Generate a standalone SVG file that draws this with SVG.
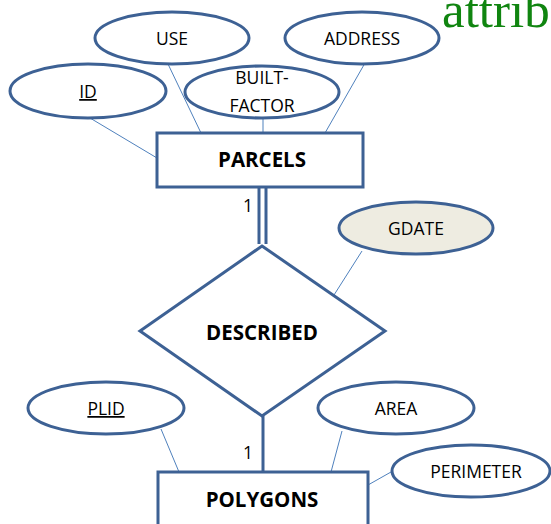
<svg xmlns="http://www.w3.org/2000/svg" width="551" height="524" viewBox="0 0 551 524">
<style>
.ell{fill:#ffffff;stroke:#3d6194;stroke-width:3}
.ent{fill:#ffffff;stroke:#3d6194;stroke-width:3}
.t{font-family:"Open Sans","Noto Sans",sans-serif;font-size:17.5px;fill:#000;text-anchor:middle}
.b{font-family:"Open Sans","Noto Sans",sans-serif;font-size:20.5px;font-weight:bold;fill:#000;text-anchor:middle}
.c{stroke:#4f81bd;stroke-width:1;fill:none}
.k{stroke:#3d6194;stroke-width:3;fill:none}
</style>
<rect width="551" height="524" fill="#ffffff"/>
<text x="442" y="27" font-family="'Liberation Serif',serif" font-size="51" fill="#108510">attrib</text>
<g id="connectors">
<line class="c" x1="90" y1="118" x2="157" y2="158"/>
<line class="c" x1="168" y1="64" x2="201" y2="133"/>
<line class="c" x1="263" y1="118" x2="263" y2="133"/>
<line class="c" x1="365" y1="63" x2="325" y2="133"/>
<line class="c" x1="362" y1="251" x2="334" y2="295"/>
<line class="c" x1="161" y1="429" x2="179" y2="472"/>
<line class="c" x1="342" y1="431" x2="331" y2="472"/>
<line class="c" x1="391" y1="472" x2="368" y2="485"/>
<line class="k" x1="259" y1="187" x2="259" y2="244"/>
<line class="k" x1="266" y1="187" x2="266" y2="244"/>
<line class="k" x1="263" y1="416" x2="263" y2="472"/>
<text x="248" y="212" class="t" font-size="20">1</text>
<text x="248" y="459" class="t" font-size="20">1</text>
</g>
<g id="USE"><ellipse class="ell" cx="172" cy="38" rx="77" ry="26"/><text class="t" x="172" y="45">USE</text></g>
<g id="ADDRESS"><ellipse class="ell" cx="362" cy="38" rx="77" ry="26"/><text class="t" x="362" y="45">ADDRESS</text></g>
<g id="ID"><ellipse class="ell" cx="88" cy="91" rx="78" ry="27"/><text class="t" x="88" y="98" text-decoration="underline">ID</text></g>
<g id="BUILT-FACTOR"><ellipse class="ell" cx="262" cy="92" rx="77" ry="26"/><text class="t" x="262" y="84">BUILT-</text><text class="t" x="262" y="112">FACTOR</text></g>
<g id="PARCELS"><rect class="ent" x="157" y="133" width="206" height="54"/><text class="b" x="262" y="167">PARCELS</text></g>
<g id="GDATE"><ellipse class="ell" cx="416" cy="228" rx="77" ry="26" style="fill:#eeece1"/><text class="t" x="416" y="235">GDATE</text></g>
<g id="DESCRIBED"><polygon class="ent" points="262,246 385,331 262,416 140,331"/><text class="b" x="262" y="340">DESCRIBED</text></g>
<g id="PLID"><ellipse class="ell" cx="106" cy="408" rx="78" ry="26"/><text class="t" x="106" y="415" text-decoration="underline">PLID</text></g>
<g id="AREA"><ellipse class="ell" cx="396" cy="408" rx="78" ry="26"/><text class="t" x="396" y="415">AREA</text></g>
<g id="PERIMETER"><ellipse class="ell" cx="471" cy="471" rx="79" ry="26"/><text class="t" x="476" y="478">PERIMETER</text></g>
<g id="POLYGONS"><rect class="ent" x="158" y="472" width="210" height="60"/><text class="b" x="262" y="507">POLYGONS</text></g>
</svg>
